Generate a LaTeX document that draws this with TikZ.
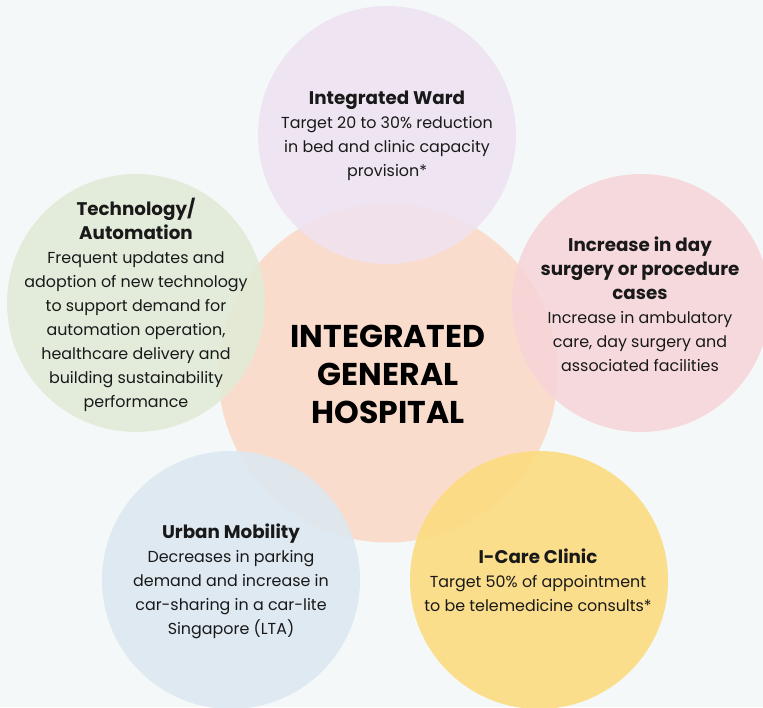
\documentclass[tikz,border=0pt]{standalone}
\usepackage{xcolor}
\usepackage{fontspec}
\setmainfont{Poppins}

\definecolor{bgcol}{HTML}{F5F8F9}
\definecolor{peach}{HTML}{FADCCC}
\definecolor{lavender}{HTML}{EFE2F0}
\definecolor{sage}{HTML}{E1EBD7}
\definecolor{blush}{HTML}{F7D5D9}
\definecolor{skyblue}{HTML}{DCE8F1}
\definecolor{sunny}{HTML}{FCDB7C}

\tikzset{
  bubble/.style={circle, minimum size=258pt, inner sep=0pt, fill opacity=0.88},
  bubbletext/.style={align=center, text=black!90, font=\fontsize{15.9}{24}\selectfont},
}
\newcommand{\btitle}[1]{{\bfseries\fontsize{18.3}{24}\selectfont #1}}

\begin{document}
\begin{tikzpicture}[x=1pt, y=-1pt]
  \fill[bgcol] (0,0) rectangle (763,707);
  \useasboundingbox (0,0) rectangle (763,707);

  \node (hub) at (388, 373) [circle, minimum size=339pt, fill=peach] {};
  \node (ward) at (387, 135) [bubble, fill=lavender] {};
  \node (tech) at (136, 303) [bubble, fill=sage] {};
  \node (day) at (641, 303) [bubble, fill=blush] {};
  \node (mob) at (231, 580) [bubble, fill=skyblue] {};
  \node (care) at (539, 580) [bubble, fill=sunny] {};

  \node (hubtext) at (388, 374) [align=center, font=\bfseries\fontsize{31.5}{38}\selectfont]
    {INTEGRATED\\GENERAL\\HOSPITAL};

  \node (wardtext) at (387, 136) [bubbletext]
    {\btitle{Integrated Ward}\\Target 20 to 30\% reduction\\in bed and clinic capacity\\provision*};
  \node (techtext) at (136, 305) [bubbletext]
    {\btitle{Technology/}\\\btitle{Automation}\\Frequent updates and\\adoption of new technology\\to support demand for\\automation operation,\\healthcare delivery and\\building sustainability\\performance};
  \node (daytext) at (640, 304) [bubbletext]
    {\btitle{Increase in day}\\\btitle{surgery or procedure}\\\btitle{cases}\\Increase in ambulatory\\care, day surgery and\\associated facilities};
  \node (mobtext) at (231, 581) [bubbletext]
    {\btitle{Urban Mobility}\\Decreases in parking\\demand and increase in\\car-sharing in a car-lite\\Singapore (LTA)};
  \node (caretext) at (538, 580) [bubbletext]
    {\btitle{I-Care Clinic}\\Target 50\% of appointment\\to be telemedicine consults*};
\end{tikzpicture}
\end{document}
